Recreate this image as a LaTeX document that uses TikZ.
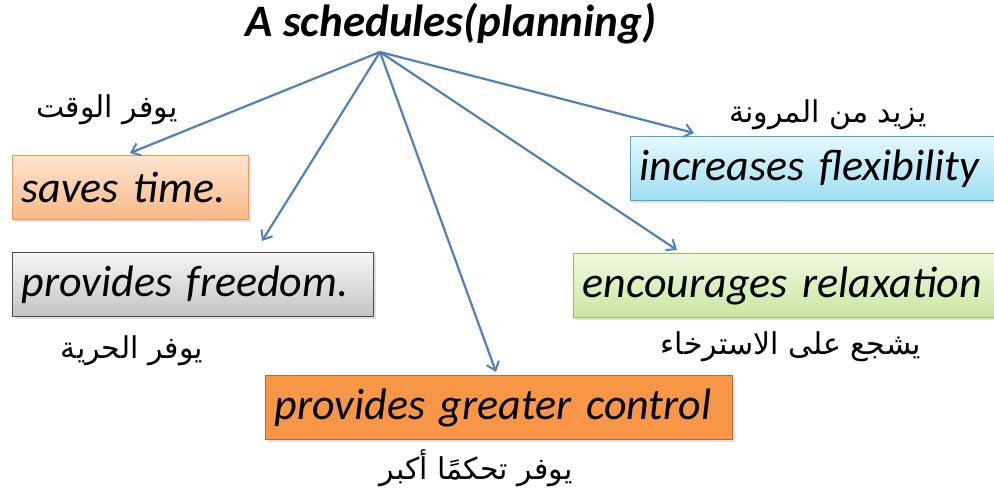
\documentclass[tikz,border=0pt]{standalone}
\usepackage{fontspec}
\setmainfont{Carlito}
\newfontfamily\arabicfont[Script=Arabic]{DejaVu Sans}
\TeXXeTstate=1
\usetikzlibrary{arrows.meta,shadows}
\definecolor{arrowblue}{HTML}{4F81BD}
\definecolor{orangeborder}{HTML}{F79646}
\definecolor{darkorange}{HTML}{B66D31}
\definecolor{blueborder}{HTML}{4BACC6}
\definecolor{greenborder}{HTML}{9BBB59}
\definecolor{orangetop}{HTML}{FDE4D0}
\definecolor{orangebot}{HTML}{FAB887}
\definecolor{graytop}{HTML}{F6F6F6}
\definecolor{graybot}{HTML}{C4C4C4}
\definecolor{bluetop}{HTML}{E4F8FD}
\definecolor{bluebot}{HTML}{9EDFF3}
\definecolor{greentop}{HTML}{F0F9E1}
\definecolor{greenbot}{HTML}{C9E6A0}
\tikzset{
  x=1pt, y=-1pt,
  box/.style={draw, line width=1.2pt, rectangle, anchor=north west, minimum height=64pt,
    inner xsep=9pt, align=left, font=\fontsize{44}{48}\selectfont\itshape,
    drop shadow={shadow xshift=2pt, shadow yshift=-2pt, opacity=0.25}},
  arlabel/.style={font=\arabicfont\fontsize{30}{34}\selectfont},
  conn/.style={draw=arrowblue, line width=2.2pt, -{Straight Barb[length=8pt,width=13pt,line width=2pt]}},
}
\begin{document}
\begin{tikzpicture}
\useasboundingbox (0,0) rectangle (994,497);
\fill[white] (0,0) rectangle (994,497);

\node[font=\fontsize{45}{50}\selectfont\bfseries\itshape] (title) at (451,24) {A schedules(planning)};
\coordinate (o) at (380,52);

\node[box, draw=orangeborder, top color=orangetop, bottom color=orangebot, text width=218pt] (saves) at (12,155) {saves time.};
\node[box, draw=black!70, top color=graytop, bottom color=graybot, text width=343pt] (freedom) at (12,252) {provides freedom.};
\node[box, draw=darkorange, fill=orangeborder, text width=449pt] (control) at (265,375) {provides greater control};
\node[box, draw=blueborder, top color=bluetop, bottom color=bluebot, text width=352pt] (flex) at (630,136) {increases flexibility};
\node[box, draw=greenborder, top color=greentop, bottom color=greenbot, text width=404pt] (relax) at (573,253) {encourages relaxation};

\node[arlabel] (a1) at (107,110) {\beginR يوفر الوقت\endR};
\node[arlabel] (a2) at (132,351) {\beginR يوفر الحرية\endR};
\node[arlabel] (a3) at (476,468) {\beginR يوفر تحكمًا أكبر\endR};
\node[arlabel] (a4) at (828,115) {\beginR يزيد من المرونة\endR};
\node[arlabel] (a5) at (791,347) {\beginR يشجع على الاسترخاء\endR};

\coordinate (t1) at (130,153);
\coordinate (t2) at (262,241);
\coordinate (t3) at (496,372);
\coordinate (t4) at (694,133);
\coordinate (t5) at (677,250);

\draw[conn] (o) -- (t1);
\draw[conn] (o) -- (t2);
\draw[conn] (o) -- (t3);
\draw[conn] (o) -- (t4);
\draw[conn] (o) -- (t5);
\end{tikzpicture}
\end{document}
